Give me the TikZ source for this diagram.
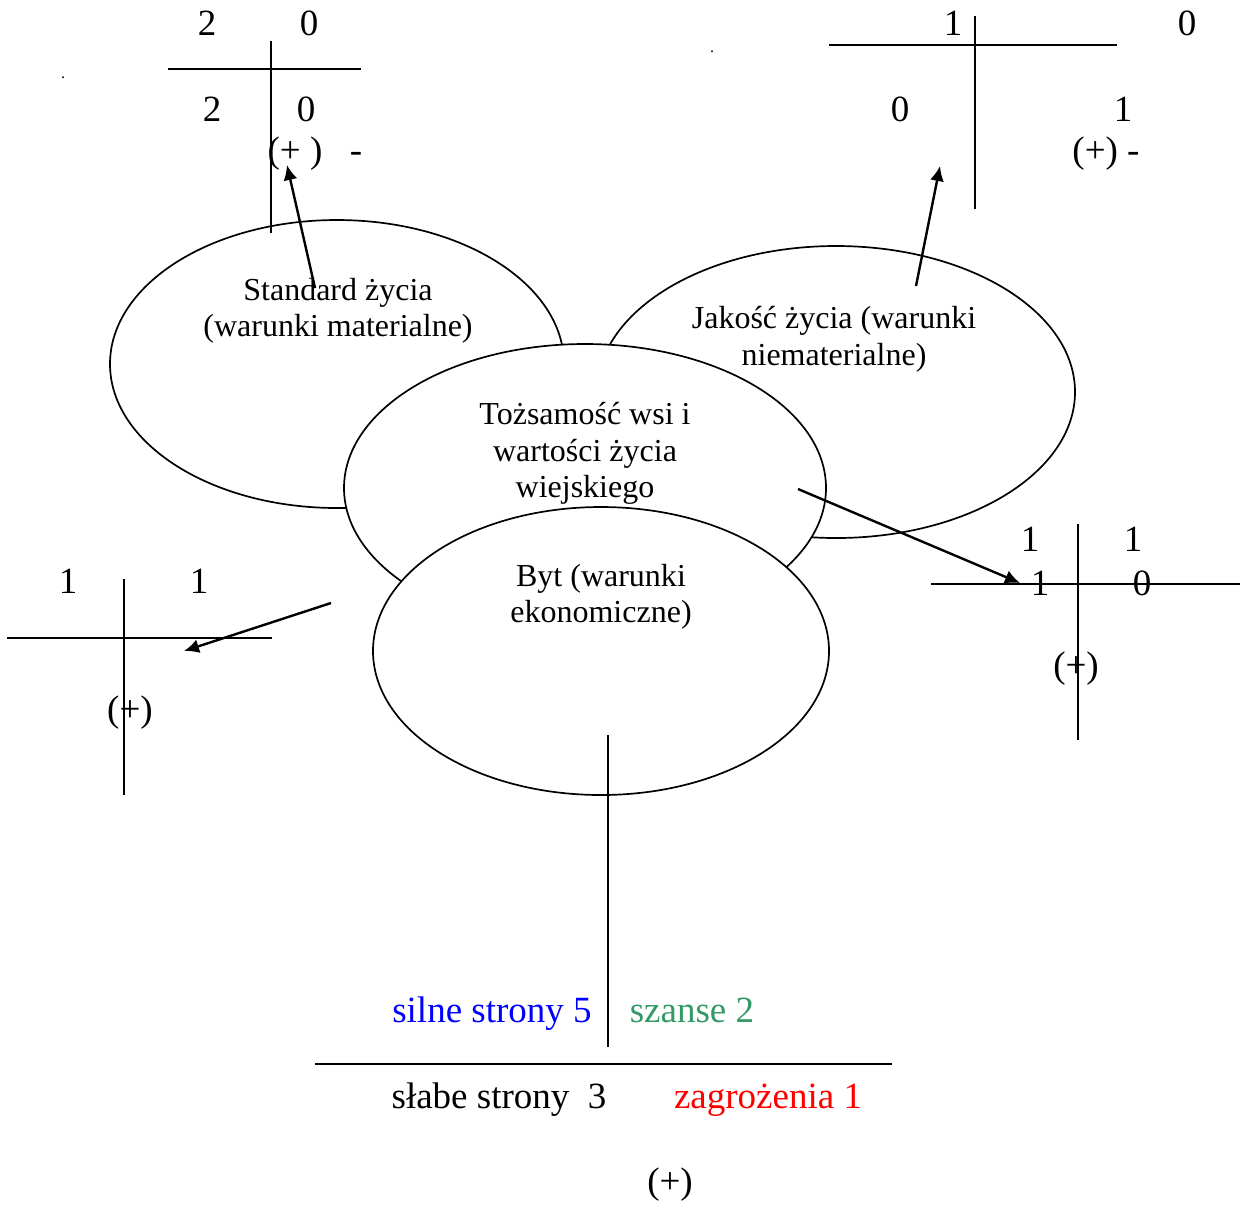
\documentclass[tikz,border=0pt]{standalone}
\usepackage{fontspec}
\setmainfont{Liberation Serif}
\usetikzlibrary{shapes.geometric,arrows.meta}
\definecolor{szgreen}{RGB}{51,153,102}
\begin{document}
\begin{tikzpicture}[x=0.5pt,y=-0.5pt,
  oval/.style={ellipse,draw,fill=white,line width=0.85pt,inner sep=0pt},
  big/.style={font=\fontsize{18.5}{22}\selectfont,anchor=base,inner sep=0pt},
  etxt/.style={font=\fontsize{16}{18.5}\selectfont,anchor=base,inner sep=0pt},
  dotmark/.style={font=\fontsize{8}{9}\selectfont,anchor=base,inner sep=0pt},
  tline/.style={line width=0.9pt},
  arr/.style={line width=1.2pt,-{Latex[length=7.5pt,width=7pt]}}]
\useasboundingbox (0,0) rectangle (1240,1207);

% ellipses
\node[oval,minimum width=227pt,minimum height=144pt] (std) at (337,364) {};
\node[oval,minimum width=239pt,minimum height=146pt] (jak) at (836,392) {};
\node[oval,minimum width=241pt,minimum height=144pt] (toz) at (585,488) {};
\node[oval,minimum width=228pt,minimum height=144pt] (byt) at (601,651) {};

% ellipse texts
\node[etxt] (t1a) at (338,300) {Standard życia};
\node[etxt] (t1b) at (338,336) {(warunki materialne)};
\node[etxt] (t2a) at (834,328) {Jakość życia (warunki};
\node[etxt] (t2b) at (834,365) {niematerialne)};
\node[etxt] (t3a) at (585,424) {Tożsamość wsi i};
\node[etxt] (t3b) at (585,461) {wartości życia};
\node[etxt] (t3c) at (585,497) {wiejskiego};
\node[etxt] (t4a) at (601,586) {Byt (warunki};
\node[etxt] (t4b) at (601,622) {ekonomiczne)};

% top-left T
\coordinate (a1) at (168,69); \coordinate (a2) at (361,69);
\coordinate (a3) at (271,41); \coordinate (a4) at (271,233);
\draw[tline] (a1) -- (a2);
\draw[tline] (a3) -- (a4);
\node[big] (a11) at (207,35) {2};
\node[big] (a12) at (309,35) {0};
\node[big] (a21) at (212,121) {2};
\node[big] (a22) at (306,121) {0};
\node[big] (aplus) at (295,162) {(+ )};
\node[big] (aminus) at (356,162) {-};

% top-right T
\coordinate (b1) at (829,45); \coordinate (b2) at (1117,45);
\coordinate (b3) at (975,16); \coordinate (b4) at (975,209);
\draw[tline] (b1) -- (b2);
\draw[tline] (b3) -- (b4);
\node[big] (b11) at (953,35) {1};
\node[big] (b12) at (1187,35) {0};
\node[big] (b21) at (900,121) {0};
\node[big] (b22) at (1123,121) {1};
\node[big] (bplus) at (1106,162) {(+) -};

% right T
\coordinate (c1) at (931,584); \coordinate (c2) at (1240,584);
\coordinate (c3) at (1078,524); \coordinate (c4) at (1078,740);
\draw[tline] (c1) -- (c2);
\draw[tline] (c3) -- (c4);
\node[big] (c11) at (1030,551) {1};
\node[big] (c12) at (1133,551) {1};
\node[big] (c21) at (1040,595) {1};
\node[big] (c22) at (1142,595) {0};
\node[big] (cplus) at (1076,677) {(+)};

% left T
\coordinate (d1) at (7,638); \coordinate (d2) at (272,638);
\coordinate (d3) at (124,579); \coordinate (d4) at (124,795);
\draw[tline] (d1) -- (d2);
\draw[tline] (d3) -- (d4);
\node[big] (d11) at (68,593) {1};
\node[big] (d12) at (199,593) {1};
\node[big] (dplus) at (130,721) {(+)};

% bottom T
\coordinate (e3) at (608,735); \coordinate (e4) at (608,1047);
\coordinate (e1) at (315,1064); \coordinate (e2) at (892,1064);
\draw[tline] (e3) -- (e4);
\draw[tline] (e1) -- (e2);
\node[big,text=blue] (e11) at (492,1022) {silne strony 5};
\node[big,text=szgreen] (e12) at (692,1022) {szanse 2};
\node[big] (e21) at (499,1108) {słabe strony\ \ 3};
\node[big,text=red] (e22) at (768,1108) {zagrożenia 1};
\node[big] (eplus) at (670,1193) {(+)};

% stray dots
\node[dotmark] (dot1) at (63,78) {.};
\node[dotmark] (dot2) at (712,52) {.};

% arrows
\coordinate (s1) at (315,288); \coordinate (s1t) at (287,165);
\coordinate (s2) at (916,286); \coordinate (s2t) at (940,166);
\coordinate (s3) at (798,489); \coordinate (s3t) at (1020,583);
\coordinate (s4) at (331,603); \coordinate (s4t) at (184,651);
\draw[arr] (s1) -- (s1t);
\draw[arr] (s2) -- (s2t);
\draw[arr] (s3) -- (s3t);
\draw[arr] (s4) -- (s4t);
\end{tikzpicture}
\end{document}
